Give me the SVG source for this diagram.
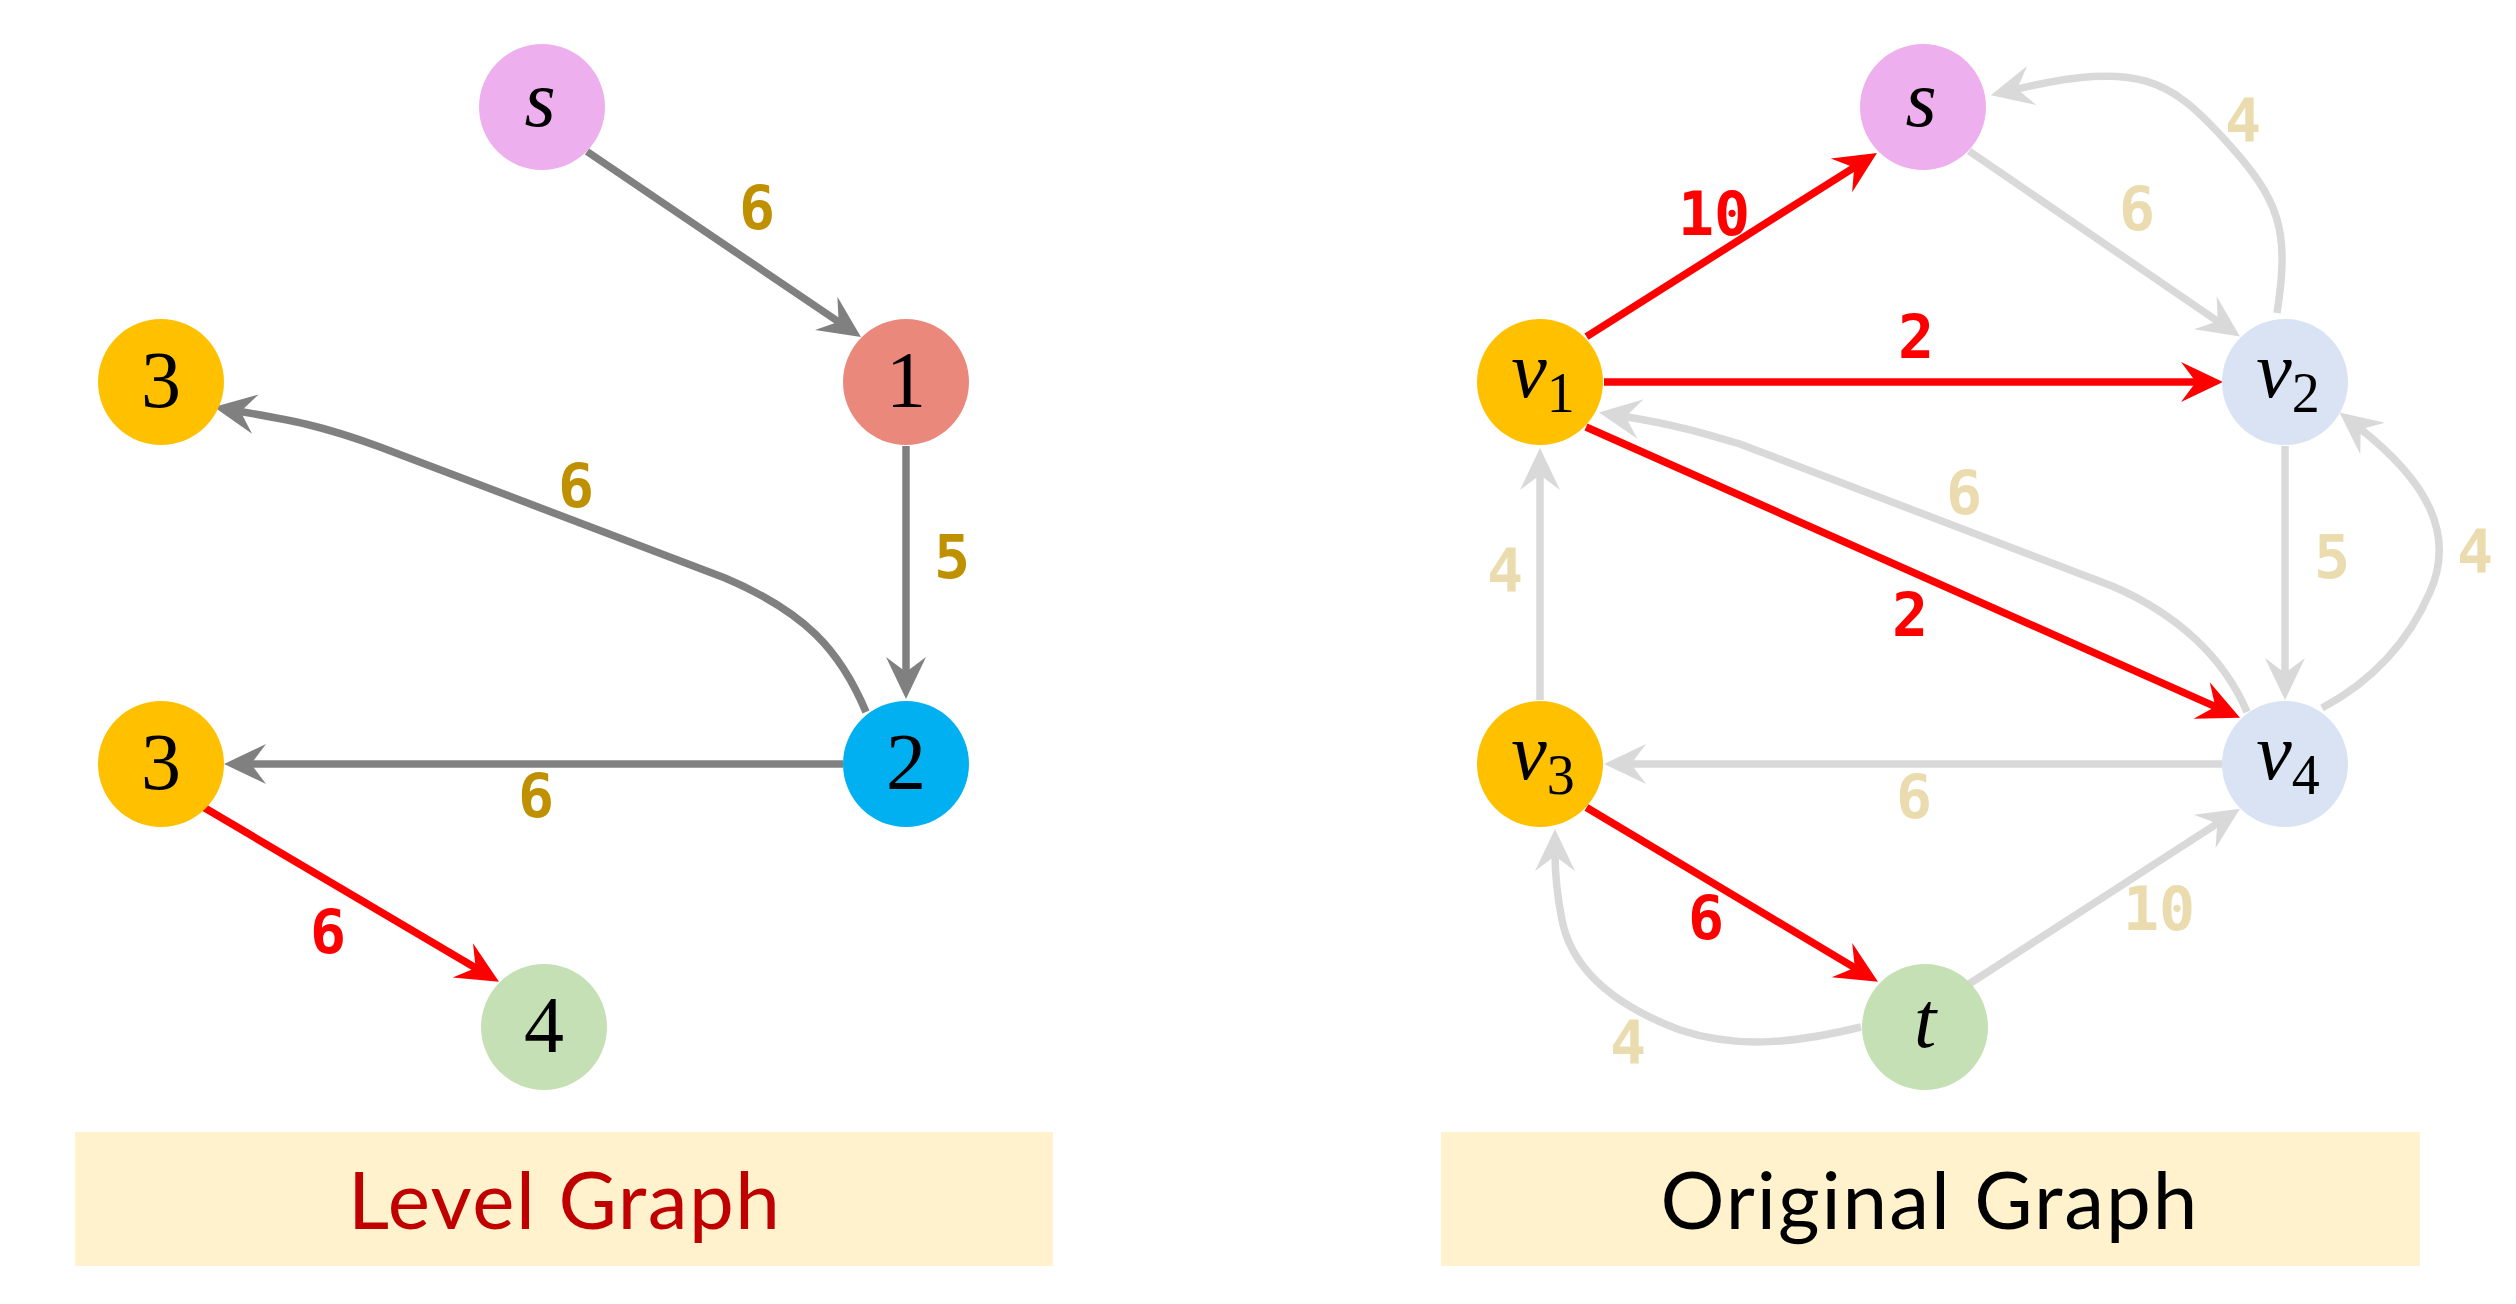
<svg xmlns="http://www.w3.org/2000/svg" width="2516" height="1304" viewBox="0 0 2516 1304">
<style>
.e{fill:none;stroke-width:7.5}
.g{stroke:#808080}
.r{stroke:#FF0000}
.l{stroke:#D9D9D9}
.w{font-family:"DejaVu Sans Mono","Liberation Mono",monospace;font-weight:bold;font-size:60px;text-anchor:middle}
.wg{fill:#BF9000}
.wr{fill:#FF0000}
.wl{fill:#EBDCB0}
.n{font-family:"Liberation Serif","DejaVu Serif",serif;font-size:80px;text-anchor:middle;fill:#000}
.it{font-style:italic}
.cap{font-family:Lato,"Open Sans","Liberation Sans",sans-serif;font-size:80px;text-anchor:middle}
</style>
<defs>
<marker id="ag" markerUnits="userSpaceOnUse" viewBox="-45 -25 50 50" markerWidth="50" markerHeight="50" refX="-24" refY="0" orient="auto"><path d="M0,0 L-42,-20 L-27,0 L-42,20 Z" fill="#808080"/></marker>
<marker id="ar" markerUnits="userSpaceOnUse" viewBox="-45 -25 50 50" markerWidth="50" markerHeight="50" refX="-24" refY="0" orient="auto"><path d="M0,0 L-42,-20 L-27,0 L-42,20 Z" fill="#FF0000"/></marker>
<marker id="al" markerUnits="userSpaceOnUse" viewBox="-45 -25 50 50" markerWidth="50" markerHeight="50" refX="-24" refY="0" orient="auto"><path d="M0,0 L-42,-20 L-27,0 L-42,20 Z" fill="#D9D9D9"/></marker>
</defs>
<rect width="2516" height="1304" fill="#FFFFFF"/>

<g id="connectors">
<!-- Level graph -->
<path class="e g" d="M587,151.5 L841.1,323.5" marker-end="url(#ag)"/>
<path class="e g" d="M906,446 L906,675" marker-end="url(#ag)"/>
<path class="e g" d="M866,712 C840,650 805,612 725,578 L380,447 C320,425 290,420 237.6,411.1" marker-end="url(#ag)"/>
<path class="e g" d="M843,764 L248,764" marker-end="url(#ag)"/>
<path class="e r" d="M204,807.5 L478.3,969.5" marker-end="url(#ar)"/>
<!-- Original graph -->
<path class="e l" d="M1969,151 L2220.2,323" marker-end="url(#al)"/>
<path class="e l" d="M2277,313 C2290,230 2280,200 2225,140 C2170,80 2140,60 2014.2,89.7" marker-end="url(#al)"/>
<path class="e l" d="M2247,712 C2225,660 2180,615 2112,586 L1740,444 C1700,432 1672,424 1622.7,416.2" marker-end="url(#al)"/>
<path class="e l" d="M2285,446 L2285,676" marker-end="url(#al)"/>
<path class="e l" d="M2322,708 C2365,685 2405,650 2430,592 C2455,535 2429,482.6 2358.4,427.3" marker-end="url(#al)"/>
<path class="e l" d="M1540,700 L1540,472" marker-end="url(#al)"/>
<path class="e l" d="M2222,764 L1628,764" marker-end="url(#al)"/>
<path class="e l" d="M1969,984 L2219.8,821.8" marker-end="url(#al)"/>
<path class="e l" d="M1861,1027 C1800,1042 1740,1050 1680,1030 C1600,1000 1570,960 1562,920 C1557,895 1555,875 1555,853" marker-end="url(#al)"/>
<path class="e r" d="M1586.5,336.6 L1856.7,165.8" marker-end="url(#ar)"/>
<path class="e r" d="M1604,382 L2199,382" marker-end="url(#ar)"/>
<path class="e r" d="M1586,427 L2218.1,707.9" marker-end="url(#ar)"/>
<path class="e r" d="M1586.5,807.5 L1857.4,969.4" marker-end="url(#ar)"/>
</g>

<g id="edge-labels">
<text class="w wg" x="757" y="229">6</text>
<text class="w wg" x="952" y="578">5</text>
<text class="w wg" x="576" y="507">6</text>
<text class="w wg" x="536" y="817">6</text>
<text class="w wr" x="328" y="953">6</text>

<text class="w wr" x="1714" y="235">10</text>
<text class="w wr" x="1916" y="358">2</text>
<text class="w wr" x="1910" y="636">2</text>
<text class="w wl" x="2137" y="230">6</text>
<text class="w wl" x="2243" y="142">4</text>
<text class="w wl" x="1964" y="514">6</text>
<text class="w wl" x="2332" y="578">5</text>
<text class="w wl" x="2475" y="573">4</text>
<text class="w wl" x="1505" y="592">4</text>
<text class="w wl" x="1914" y="818">6</text>
<text class="w wr" x="1706" y="939">6</text>
<text class="w wl" x="2159" y="930">10</text>
<text class="w wl" x="1628" y="1064">4</text>
</g>

<!-- Level graph nodes -->
<g id="L-s"><circle cx="542" cy="107" r="63" fill="#EEAFEE"/><text class="n it" x="540" y="126">s</text></g>
<g id="L-1"><circle cx="906" cy="382" r="63" fill="#EA887C"/><text class="n" x="906" y="407">1</text></g>
<g id="L-3a"><circle cx="161" cy="382" r="63" fill="#FFC000"/><text class="n" x="161" y="407">3</text></g>
<g id="L-2"><circle cx="906" cy="764" r="63" fill="#00B0F0"/><text class="n" x="906" y="789">2</text></g>
<g id="L-3b"><circle cx="161" cy="764" r="63" fill="#FFC000"/><text class="n" x="161" y="789">3</text></g>
<g id="L-4"><circle cx="544" cy="1027" r="63" fill="#C5E0B4"/><text class="n" x="544" y="1052">4</text></g>

<!-- Original graph nodes -->
<g id="O-s"><circle cx="1923" cy="107" r="63" fill="#EEAFEE"/><text class="n it" x="1921" y="126">s</text></g>
<g id="O-v1"><circle cx="1540" cy="382" r="63" fill="#FFC000"/><text class="n" x="1543" y="397"><tspan class="it">v</tspan><tspan font-size="56" dy="15">1</tspan></text></g>
<g id="O-v2"><circle cx="2285" cy="382" r="63" fill="#DAE3F3"/><text class="n" x="2288" y="397"><tspan class="it">v</tspan><tspan font-size="56" dy="15">2</tspan></text></g>
<g id="O-v3"><circle cx="1540" cy="764" r="63" fill="#FFC000"/><text class="n" x="1543" y="779"><tspan class="it">v</tspan><tspan font-size="56" dy="15">3</tspan></text></g>
<g id="O-v4"><circle cx="2285" cy="764" r="63" fill="#DAE3F3"/><text class="n" x="2288" y="779"><tspan class="it">v</tspan><tspan font-size="56" dy="15">4</tspan></text></g>
<g id="O-t"><circle cx="1925" cy="1027" r="63" fill="#C5E0B4"/><text class="n it" x="1925" y="1047">t</text></g>

<g id="caption-level"><rect x="75" y="1132" width="978" height="134" fill="#FFF2CC"/><text class="cap" x="564" y="1229" fill="#C00000" textLength="432">Level Graph</text></g>
<g id="caption-original"><rect x="1441" y="1132" width="979" height="134" fill="#FFF2CC"/><text class="cap" x="1929" y="1229" fill="#000000" textLength="537">Original Graph</text></g>
</svg>
